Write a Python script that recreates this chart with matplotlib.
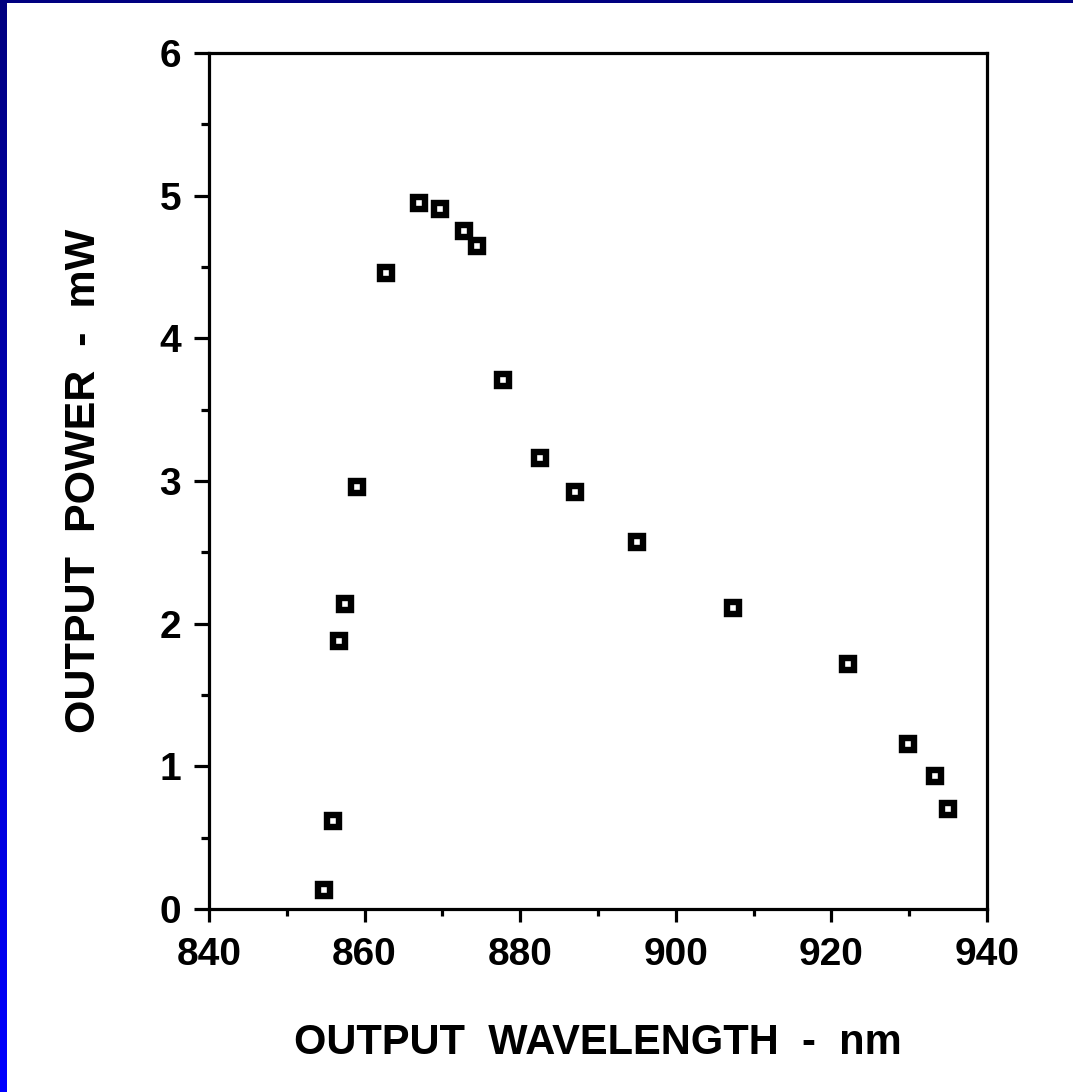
import numpy as np
import matplotlib
matplotlib.use("Agg")
import matplotlib.pyplot as plt
from matplotlib.patches import Rectangle
from matplotlib.ticker import MultipleLocator

plt.rcParams['font.family'] = ['Liberation Sans', 'DejaVu Sans']
plt.rcParams['font.weight'] = 'bold'

# measured output power vs. wavelength
wavelength_nm = [854.8, 856.0, 856.7, 857.5, 859.0, 862.7, 867.0, 869.7, 872.8, 874.4,
                 877.8, 882.5, 887.1, 895.0, 907.3, 922.1, 929.8, 933.3, 935.0]
power_mw = [0.13, 0.62, 1.88, 2.14, 2.96, 4.46, 4.95, 4.91, 4.75, 4.65,
            3.71, 3.16, 2.92, 2.57, 2.11, 1.72, 1.16, 0.93, 0.70]

x_ticks = [840, 860, 880, 900, 920, 940]
y_ticks = [0, 1, 2, 3, 4, 5, 6]

W, H = 1073, 1092
fig = plt.figure(figsize=(W / 100, H / 100), dpi=100)
fig.patch.set_facecolor('white')

ax = fig.add_axes([209 / W, 1 - 909 / H, (987 - 209) / W, (909 - 53) / H])
ax.plot(wavelength_nm, power_mw, linestyle='none', marker='s', markersize=8,
        markerfacecolor='white', markeredgecolor='black', markeredgewidth=4.6)

ax.set_xlim(840, 940)
ax.set_ylim(0, 6)
ax.set_xticks(x_ticks)
ax.set_yticks(y_ticks)
ax.xaxis.set_minor_locator(MultipleLocator(10))
ax.yaxis.set_minor_locator(MultipleLocator(0.5))

for s in ax.spines.values():
    s.set_linewidth(2.3)
ax.tick_params(axis='both', which='major', direction='out', width=2.3, labelsize=28)
ax.tick_params(axis='x', which='major', length=9, pad=11)
ax.tick_params(axis='y', which='major', length=11, pad=9)
ax.tick_params(axis='x', which='minor', direction='out', length=5, width=2.3)
ax.tick_params(axis='y', which='minor', direction='out', length=6, width=2.3)
for lab in ax.get_xticklabels() + ax.get_yticklabels():
    lab.set_fontweight('bold')

ax.set_xlabel('OUTPUT  WAVELENGTH  -  nm', fontsize=30, fontweight='bold', labelpad=36)
ax.set_ylabel('OUTPUT  POWER  -  mW', fontsize=31, fontweight='bold', labelpad=40)

# slide border: gradient bar on the left, dark strip along the top
edge = fig.add_axes([0, 0, 7 / W, 1])
grad = np.linspace(0, 1, 256).reshape(-1, 1)
cmap = matplotlib.colors.LinearSegmentedColormap.from_list('slide', ['#000080', '#0000ff'])
edge.imshow(grad, aspect='auto', cmap=cmap, extent=[0, 1, 1, 0])
edge.set_axis_off()
fig.patches.append(Rectangle((0, 1 - 3 / H), 1, 3 / H, transform=fig.transFigure,
                             facecolor='#000080', edgecolor='none', zorder=5))

fig.savefig('out.png', dpi=100)
